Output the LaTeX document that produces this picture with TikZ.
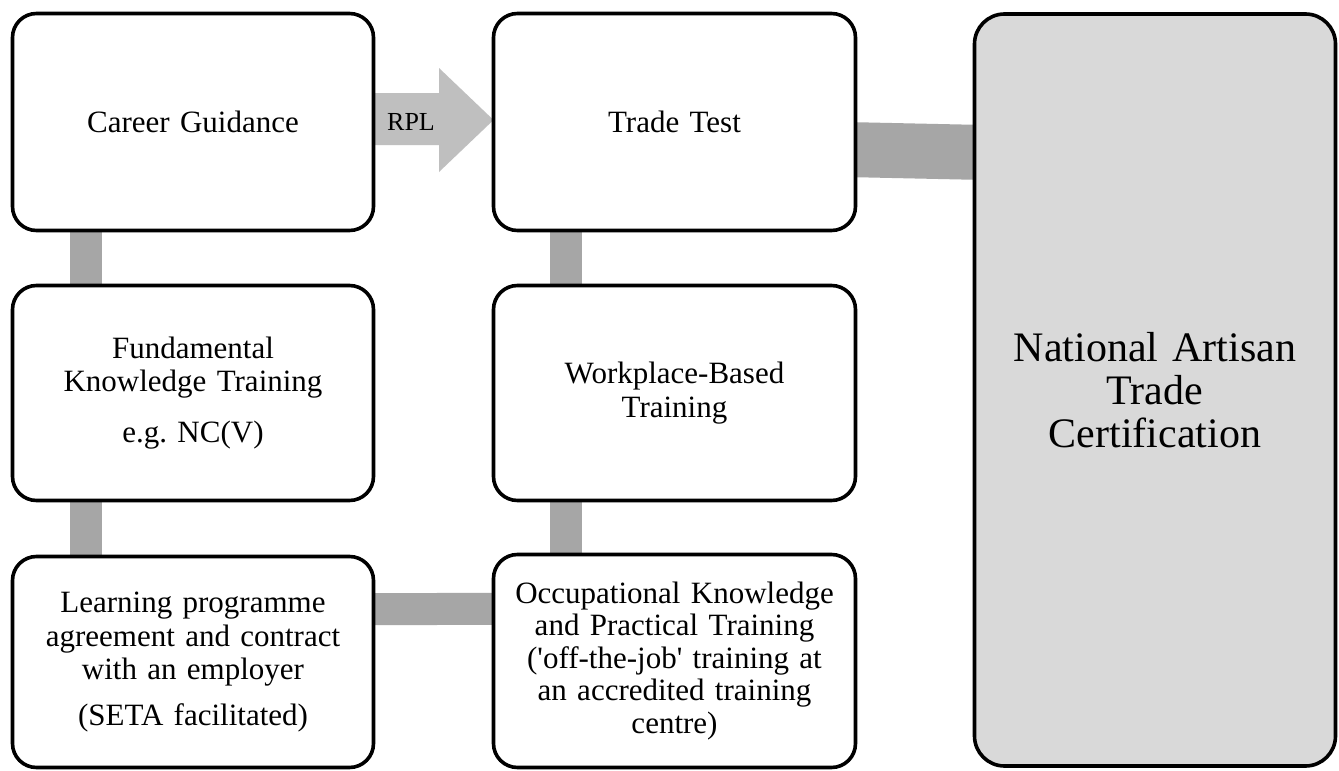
\documentclass[tikz,border=0pt]{standalone}
\usepackage{fontspec}
\setmainfont{Liberation Serif}
\usetikzlibrary{backgrounds,calc}
\definecolor{connGray}{HTML}{A6A6A6}
\definecolor{arrowGray}{HTML}{BFBFBF}
\definecolor{natFill}{HTML}{D9D9D9}
\frenchspacing
\begin{document}
\begin{tikzpicture}[x=1pt,y=-1pt,
  box/.style={draw=black, line width=3.6pt, rounded corners=24pt, fill=white,
    align=center, inner sep=0pt, outer sep=0pt,
    font=\fontsize{31}{33.5}\selectfont, text width=350pt, minimum width=361pt},
  natbox/.style={box, fill=natFill, rounded corners=30pt,
    font=\fontsize{42}{43}\selectfont},
  conn/.style={draw=connGray, line width=32pt},
  rpllabel/.style={font=\fontsize{26}{28}\selectfont, inner sep=0pt}
]
\useasboundingbox (0,0) rectangle (1339,771);

% left column
\node[box, minimum height=217pt] (CG) at (193,122) {Career Guidance};
\node[box, minimum height=215pt] (FK) at (193,393)
  {Fundamental\\Knowledge Training\\[17pt]e.g. NC(V)};
\node[box, minimum height=211pt] (LP) at (193,662)
  {Learning programme\\agreement and contract\\with an employer\\[12pt](SETA facilitated)};

% middle column
\node[box, minimum width=362pt, minimum height=217pt] (TT) at (674.5,122) {Trade Test};
\node[box, minimum width=362pt, minimum height=215pt] (WB) at (674.5,393)
  {Workplace-Based\\Training};
\node[box, minimum width=362pt, minimum height=213pt,
  font=\fontsize{31}{32.5}\selectfont] (OK) at (674.5,661)
  {Occupational Knowledge\\and Practical Training\\(\textquotesingle off-the-job\textquotesingle{} training at\\an accredited training\\centre)};

% right box
\node[natbox, minimum height=752pt] (Nat) at (1155,390)
  {National Artisan\\Trade\\Certification};

\node[rpllabel] (rpl) at (411,122) {RPL};

\begin{scope}[on background layer]
  \fill[white] (0,0) rectangle (1339,771);
  % vertical connectors
  \draw[conn] ([xshift=-107pt]CG.center) -- ([xshift=-107pt]FK.center);
  \draw[conn] ([xshift=-107pt]FK.center) -- ([xshift=-107pt]LP.center);
  \draw[conn] ([xshift=-108.5pt]TT.center) -- ([xshift=-108.5pt]WB.center);
  \draw[conn] ([xshift=-108.5pt]WB.center) -- ([xshift=-108.5pt]OK.center);
  % horizontal connector
  \draw[conn] ([yshift=52.5pt]LP.center) -- ([yshift=52.5pt]OK.center);
  % Trade Test -> National Artisan Trade Certification
  \fill[connGray] ([xshift=-10pt,yshift=0pt]TT.east) -- ([xshift=10pt,yshift=265pt]Nat.west)
    -- ([xshift=10pt,yshift=210pt]Nat.west) -- ([xshift=-10pt,yshift=-55pt]TT.east) -- cycle;
  % RPL arrow
  \fill[arrowGray] ([xshift=-5pt,yshift=29pt]CG.east) -- ([xshift=65.5pt,yshift=29pt]CG.east)
    -- ([xshift=65.5pt,yshift=54pt]CG.east) -- ([yshift=2pt]TT.west)
    -- ([xshift=65.5pt,yshift=-50pt]CG.east) -- ([xshift=65.5pt,yshift=-23pt]CG.east)
    -- ([xshift=-5pt,yshift=-23pt]CG.east) -- cycle;
\end{scope}
\end{tikzpicture}
\end{document}
